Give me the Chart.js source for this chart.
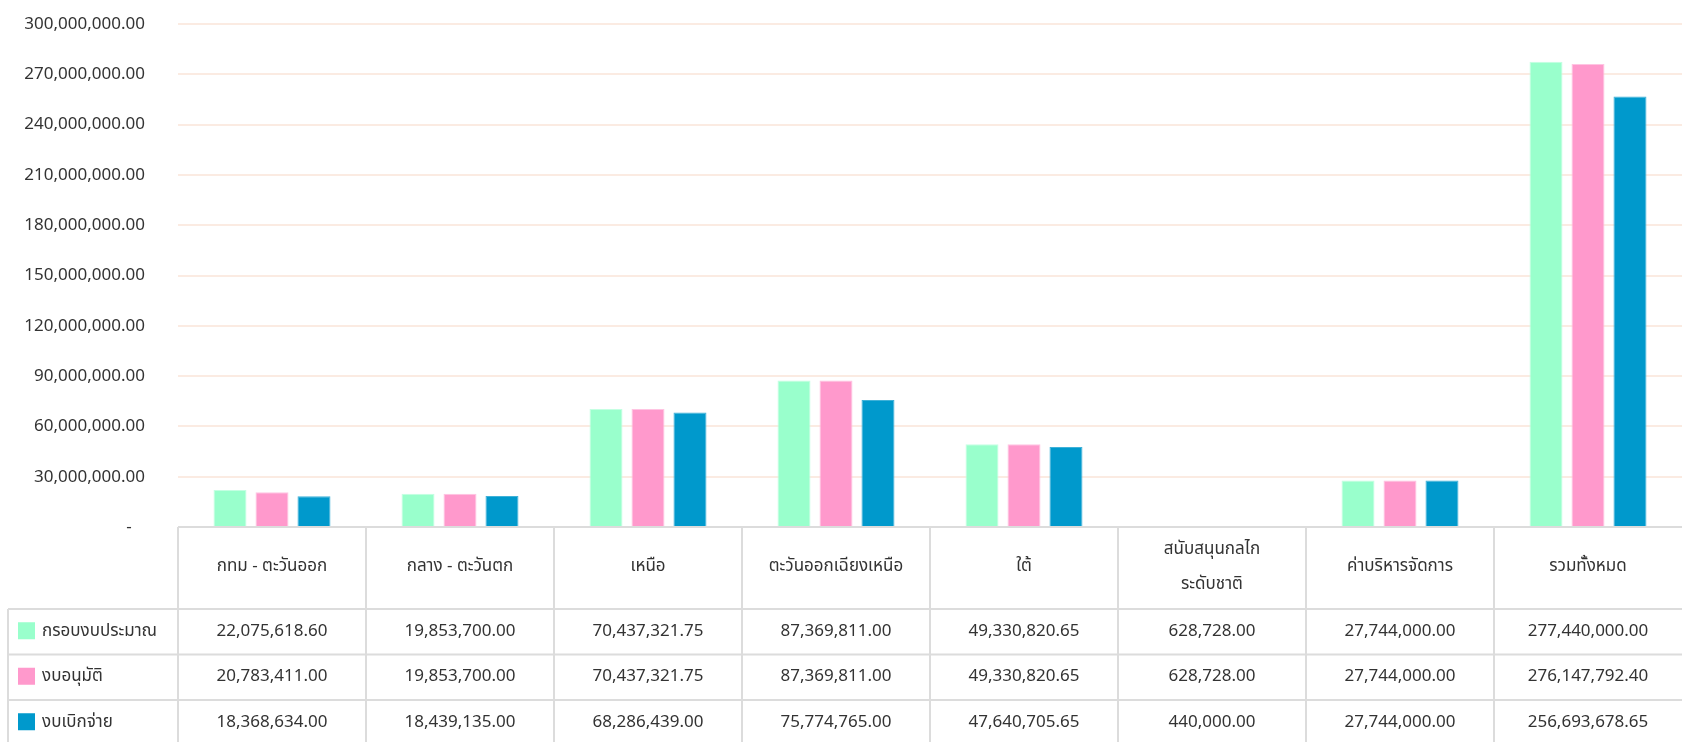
<!DOCTYPE html>
<html><head><meta charset="utf-8">
<script src="https://cdn.jsdelivr.net/npm/chart.js@4/dist/chart.umd.min.js"></script>
<style>html,body{margin:0;padding:0;background:#fff;overflow:hidden}#wrap{width:1682px;height:742px;position:relative}</style>
</head><body><div id="wrap"><canvas id="c"></canvas></div>
<script>
const categories = ['กทม - ตะวันออก', 'กลาง - ตะวันตก', 'เหนือ', 'ตะวันออกเฉียงเหนือ', 'ใต้', ['สนับสนุนกลไก', 'ระดับชาติ'], 'ค่าบริหารจัดการ', 'รวมทั้งหมด'];
const seriesNames = ['กรอบงบประมาณ', 'งบอนุมัติ', 'งบเบิกจ่าย'];
const budgetFrame = [22075618.60, 19853700.00, 70437321.75, 87369811.00, 49330820.65, 628728.00, 27744000.00, 277440000.00];
const approved = [20783411.00, 19853700.00, 70437321.75, 87369811.00, 49330820.65, 628728.00, 27744000.00, 276147792.40];
const disbursed = [18368634.00, 18439135.00, 68286439.00, 75774765.00, 47640705.65, 440000.00, 27744000.00, 256693678.65];
const yMin = 0, yMax = 300000000, yStep = 30000000;

const FONT = "'Noto Sans', 'Noto Sans Thai', Tahoma, sans-serif";
const TEXT = '#333333';
const LINE = '#dcdcdc';
const colors = ['#99ffcc', '#ff99cc', '#0099cc'];
const borders = ['#c4ffe2', '#ffc4e2', '#3fb1d8'];
const seriesData = [budgetFrame, approved, disbursed];

function fmt(v) {
  return v.toLocaleString('en-US', {minimumFractionDigits: 2, maximumFractionDigits: 2});
}

const tablePlugin = {
  id: 'dataTable',
  afterDraw(chart) {
    const ctx = chart.ctx;
    const xs = chart.scales.x;
    const top = chart.chartArea.bottom;
    const n = categories.length;
    const cw = (xs.right - xs.left) / n;
    const headerH = 82, rowH = 45.5;
    const legendLeft = 8;
    const W = chart.width, H = chart.height;
    ctx.save();
    ctx.strokeStyle = LINE;
    ctx.lineWidth = 2;
    ctx.beginPath();
    ctx.moveTo(xs.left, top); ctx.lineTo(W, top);
    for (let r = 0; r <= seriesNames.length; r++) {
      const y = top + headerH + r * rowH;
      ctx.moveTo(legendLeft, y); ctx.lineTo(W, y);
    }
    for (let i = 0; i < n; i++) {
      const x = xs.getPixelForValue(i) - cw / 2;
      ctx.moveTo(x, top); ctx.lineTo(x, H);
    }
    ctx.moveTo(legendLeft, top + headerH); ctx.lineTo(legendLeft, H);
    ctx.stroke();

    ctx.font = '17px ' + FONT;
    ctx.fillStyle = TEXT;
    ctx.textBaseline = 'middle';
    for (let r = 0; r < seriesNames.length; r++) {
      const yc = top + headerH + r * rowH + rowH / 2 - 1;
      ctx.fillStyle = colors[r];
      ctx.fillRect(18, yc - 8.5, 17, 17);
      ctx.fillStyle = TEXT;
      ctx.textAlign = 'left';
      ctx.fillText(seriesNames[r], 42, yc);
      ctx.textAlign = 'center';
      for (let i = 0; i < n; i++) {
        ctx.fillText(fmt(seriesData[r][i]), xs.getPixelForValue(i), yc);
      }
    }
    ctx.restore();
  }
};

new Chart(document.getElementById('c'), {
  type: 'bar',
  data: {
    labels: categories,
    datasets: seriesNames.map((name, k) => ({
      label: name,
      data: seriesData[k],
      backgroundColor: colors[k],
      borderColor: borders[k],
      borderWidth: 1,
      categoryPercentage: 0.67,
      barPercentage: 0.786
    }))
  },
  options: {
    responsive: true,
    maintainAspectRatio: false,
    animation: false,
    layout: {padding: {top: 24, left: 0, right: 0, bottom: 0}},
    plugins: {legend: {display: false}, tooltip: {enabled: false}},
    scales: {
      x: {
        grid: {display: false},
        border: {display: false},
        ticks: {
          font: {family: FONT, size: 17, lineHeight: 2.06},
          color: TEXT,
          autoSkip: false,
          maxRotation: 0,
          minRotation: 0,
          crossAlign: 'center',
          padding: 14
        },
        afterFit(s) { s.height = 215; }
      },
      y: {
        min: yMin, max: yMax,
        grid: {color: '#fbebe2', lineWidth: 2, drawTicks: false},
        border: {display: false},
        ticks: {
          stepSize: yStep,
          font: {family: FONT, size: 17},
          color: TEXT,
          padding: 33,
          callback: v => v === 0 ? '-   ' : fmt(v)
        },
        afterFit(s) { s.width = 178; s.paddingTop = 0; s.paddingBottom = 0; }
      }
    }
  },
  plugins: [tablePlugin]
});
</script>
</body></html>
